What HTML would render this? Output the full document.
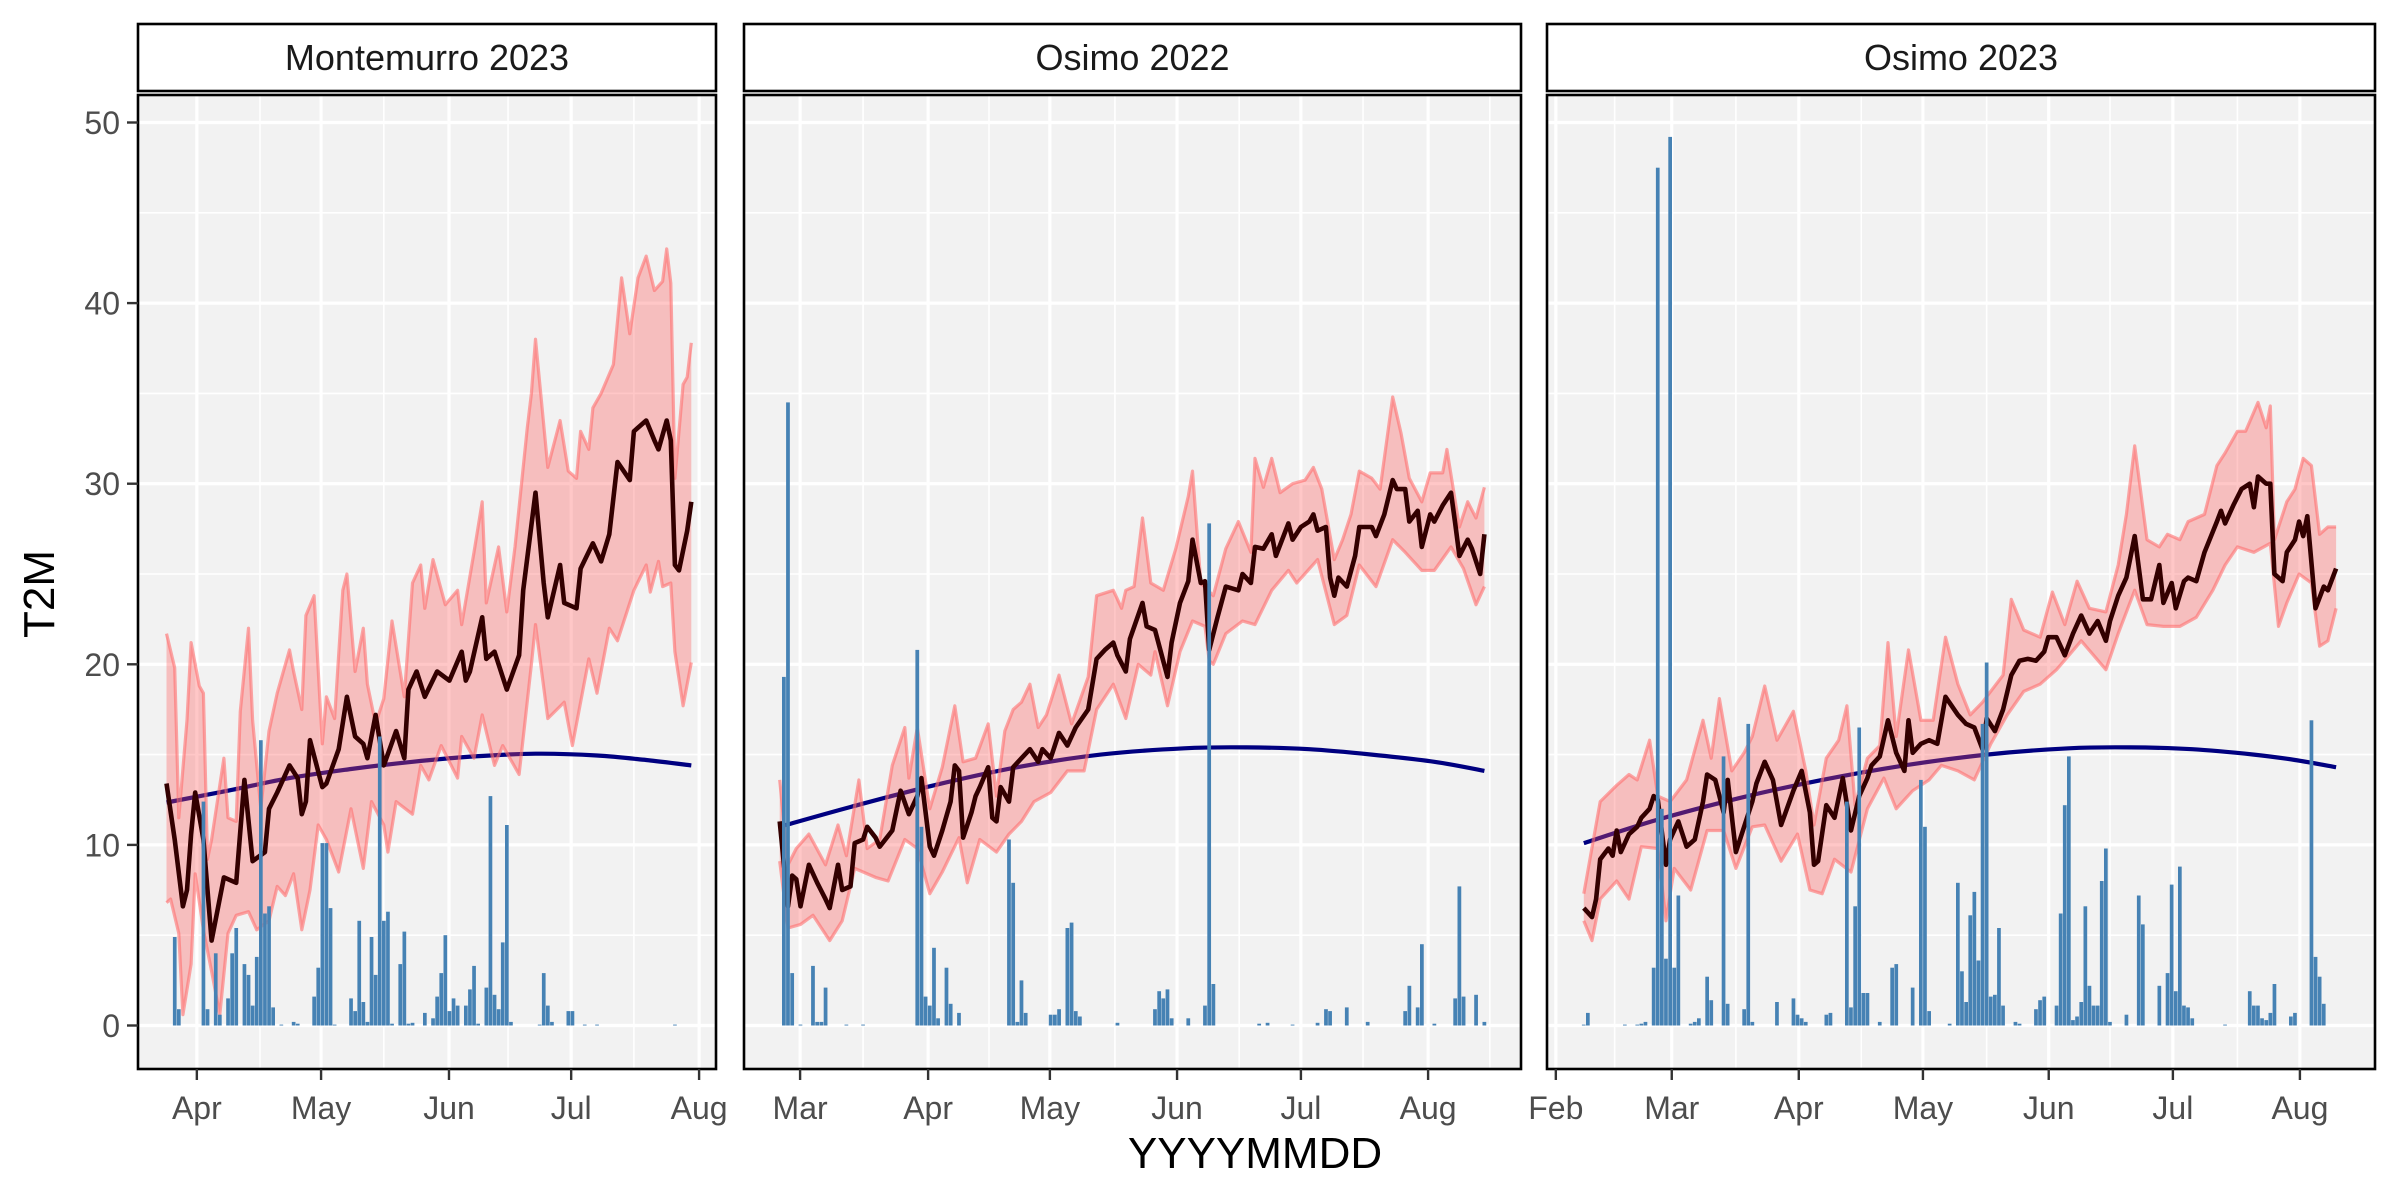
<!DOCTYPE html>
<html><head><meta charset="utf-8"><style>
html,body{margin:0;padding:0;background:#fff;}
svg{display:block;font-family:"Liberation Sans",sans-serif;}
</style></head><body>
<svg id="chart" width="2400" height="1200" viewBox="0 0 2400 1200" xmlns="http://www.w3.org/2000/svg">
<rect x="0" y="0" width="2400" height="1200" fill="#ffffff"/>
<g id="layer"></g>
<text x="1255" y="1168" text-anchor="middle" font-size="44" fill="#000">YYYYMMDD</text>
<text transform="translate(54,594) rotate(-90)" text-anchor="middle" font-size="44" fill="#000">T2M</text>
</svg>
<script>
// ---- Panel 1: Montemurro 2023 (day offsets, values) ----
const p1Mean=[[-5,13.4],[-3,10.3],[-1,6.6],[0,7.5],[1,10.6],[2,12.9],[4,10.3],[6,4.7],[9,8.2],[12,7.9],[14,13.6],[16,9.1],[19,9.6],[20,12.0],[22,12.9],[25,14.4],[27,13.7],[28,11.7],[29,12.4],[30,15.8],[33,13.2],[34,13.4],[37,15.3],[39,18.2],[41,16.0],[43,15.6],[44,14.8],[46,17.2],[48,14.4],[51,16.3],[53,14.8],[54,18.6],[56,19.6],[58,18.2],[61,19.6],[64,19.1],[67,20.7],[68,19.1],[69,19.6],[72,22.6],[73,20.3],[75,20.7],[78,18.6],[81,20.5],[82,24.1],[85,29.5],[87,24.5],[88,22.6],[91,25.5],[92,23.4],[95,23.1],[96,25.3],[99,26.7],[101,25.7],[103,27.2],[105,31.2],[108,30.2],[109,32.9],[112,33.5],[114,32.4],[115,31.9],[117,33.5],[118,32.4],[119,25.5],[120,25.2],[122,27.4],[123,29.0]];
const p1Upper=[[-5,21.7],[-3,19.8],[-2,11.5],[0,16.9],[1,21.2],[3,18.8],[4,18.4],[5,9.2],[6,10.3],[9,14.8],[10,11.5],[12,11.3],[13,17.4],[15,22.0],[16,16.9],[18,12.0],[20,16.3],[22,18.4],[25,20.8],[26,19.6],[28,17.5],[29,22.7],[31,23.8],[33,15.6],[34,18.2],[36,17.0],[38,24.1],[39,25.0],[41,19.6],[43,22.0],[44,18.9],[46,16.7],[48,18.1],[50,22.4],[53,18.2],[55,24.5],[57,25.5],[58,23.1],[60,25.8],[63,23.3],[66,24.1],[67,22.2],[70,26.2],[72,29.0],[73,23.4],[76,26.5],[78,22.9],[80,26.5],[83,33.1],[84,35.0],[85,38.0],[88,30.9],[91,33.5],[93,30.7],[95,30.3],[96,32.9],[98,31.9],[99,34.2],[101,35.0],[104,36.6],[106,41.4],[108,38.3],[110,41.4],[112,42.6],[114,40.7],[116,41.2],[117,43.0],[118,41.1],[119,30.3],[121,35.5],[122,35.9],[123,37.8]];
const p1Lower=[[-5,6.8],[-4,7.0],[-2,5.1],[-1,0.6],[1,3.4],[2,8.4],[4,5.3],[6,3.0],[8,0.6],[10,5.1],[12,6.1],[15,6.3],[17,5.3],[20,5.8],[22,7.7],[24,7.2],[26,8.4],[28,5.3],[30,7.5],[32,11.1],[34,10.3],[37,8.5],[40,12.0],[43,8.7],[45,12.4],[48,11.1],[49,9.6],[51,12.4],[55,11.7],[57,14.4],[59,13.6],[62,15.5],[66,13.7],[67,16.0],[70,14.8],[72,17.2],[75,14.4],[77,15.5],[81,13.9],[84,20.0],[85,22.2],[88,17.0],[92,17.9],[94,15.5],[98,20.3],[100,18.4],[103,22.0],[105,21.3],[109,24.1],[112,25.5],[113,24.0],[115,25.7],[116,24.3],[118,24.5],[119,20.7],[121,17.7],[123,20.1]];
const p1Smooth=[[-5,12.35],[10,13.0],[25,13.7],[40,14.2],[55,14.6],[70,14.9],[85,15.05],[100,14.95],[112,14.7],[123,14.4]];
const p1Rain=[[-3,4.9],[-2,0.9],[4,12.4],[5,0.9],[7,4.0],[8,0.6],[10,1.5],[11,4.0],[12,5.4],[14,3.4],[15,2.8],[16,1.1],[17,3.8],[18,15.8],[19,6.2],[20,6.6],[21,1.0],[23,0.05],[26,0.2],[27,0.1],[31,1.6],[32,3.2],[33,10.1],[34,10.1],[35,6.5],[36,0.05],[40,1.5],[41,0.8],[42,5.8],[43,1.3],[44,0.2],[45,4.9],[46,2.8],[47,16.0],[48,5.8],[49,6.3],[50,0.1],[52,3.4],[53,5.2],[54,0.1],[55,0.15],[58,0.7],[60,0.4],[61,1.6],[62,2.9],[63,5.0],[64,0.8],[65,1.5],[66,1.1],[68,1.1],[69,2.0],[70,3.3],[71,0.1],[73,2.1],[74,12.7],[75,1.7],[76,0.9],[77,4.6],[78,11.1],[79,0.2],[86,0.05],[87,2.9],[88,1.1],[89,0.2],[93,0.8],[94,0.8],[97,0.05],[100,0.05],[119,0.05]];
const p1TickDays=[2.4,32.7,63.9,93.7,124.9];
const p1TickLabels=["Apr","May","Jun","Jul","Aug"];
const p1MinorDays=[17.8,48,78.3,109];

// ---- Panel 2: Osimo 2022 ----
const p2Mean=[[-2,11.3],[0,6.6],[1,8.3],[2,8.1],[3,6.6],[5,8.9],[7,7.9],[9,7.0],[10,6.5],[12,8.9],[13,7.5],[15,7.7],[16,10.1],[18,10.3],[19,11.0],[21,10.4],[22,9.9],[25,10.8],[27,13.0],[29,11.7],[31,12.7],[32,13.7],[34,9.9],[35,9.4],[37,10.8],[39,12.4],[40,14.4],[41,14.1],[42,10.4],[44,11.8],[45,12.7],[46,13.2],[48,14.3],[49,11.5],[50,11.3],[51,13.2],[53,12.4],[54,14.3],[56,14.8],[58,15.3],[60,14.6],[61,15.3],[63,14.8],[65,16.2],[67,15.5],[69,16.5],[72,17.5],[74,20.3],[76,20.8],[78,21.2],[79,20.5],[81,19.6],[82,21.4],[85,23.4],[86,22.1],[88,21.9],[91,19.3],[92,21.2],[94,23.4],[96,24.6],[97,26.9],[99,24.5],[100,24.6],[101,20.8],[103,22.6],[105,24.3],[108,24.1],[109,25.0],[111,24.5],[112,26.5],[114,26.4],[116,27.2],[117,26.0],[119,27.2],[120,27.8],[121,26.9],[123,27.6],[125,27.9],[126,28.3],[127,27.4],[129,27.6],[130,24.8],[131,23.8],[132,24.8],[134,24.3],[136,26.0],[137,27.6],[140,27.6],[141,27.1],[143,28.3],[145,30.2],[146,29.7],[148,29.7],[149,27.9],[151,28.5],[152,26.5],[154,28.3],[155,27.9],[157,28.8],[159,29.5],[160,27.8],[161,26.0],[163,26.9],[164,26.4],[166,25.0],[167,27.2]];
const p2Upper=[[-2,13.6],[0,8.9],[2,9.8],[5,10.6],[9,8.9],[12,11.1],[14,9.4],[17,13.6],[19,9.8],[22,10.3],[25,14.4],[28,16.5],[29,13.7],[31,16.5],[34,12.0],[37,14.3],[40,17.7],[42,14.6],[45,14.8],[48,16.7],[50,12.7],[52,16.3],[54,17.5],[56,17.9],[58,18.9],[60,16.5],[62,17.2],[65,19.4],[68,16.7],[72,19.3],[74,23.8],[78,24.1],[80,23.1],[81,24.1],[83,24.3],[85,28.1],[87,24.5],[90,24.1],[93,26.4],[96,29.3],[97,30.7],[99,24.5],[102,23.8],[105,26.4],[108,27.9],[111,26.2],[112,31.4],[114,29.8],[116,31.4],[118,29.5],[121,30.0],[124,30.2],[126,30.9],[128,29.7],[131,25.8],[133,26.9],[135,28.3],[137,30.7],[140,30.3],[142,29.7],[145,34.8],[147,32.8],[149,30.3],[152,29.0],[154,30.6],[157,30.6],[158,31.9],[161,27.6],[163,29.0],[165,28.1],[167,29.8]];
const p2Lower=[[-2,9.1],[0,5.4],[3,5.6],[6,6.1],[10,4.7],[13,5.8],[16,8.7],[21,8.2],[24,8.0],[28,10.3],[31,9.8],[34,7.3],[37,8.5],[41,10.4],[43,7.9],[46,10.3],[50,9.6],[53,10.6],[56,11.3],[59,12.4],[63,12.9],[67,14.1],[71,14.1],[74,17.5],[78,18.9],[81,17.0],[84,20.0],[87,19.4],[88,20.7],[91,17.7],[94,20.7],[97,22.4],[100,22.1],[101,20.2],[102,20.0],[105,21.7],[109,22.4],[112,22.2],[116,24.1],[120,25.2],[122,24.5],[127,25.8],[131,22.2],[134,22.7],[137,25.5],[141,24.3],[145,26.9],[148,26.2],[152,25.2],[155,25.2],[159,26.5],[162,25.3],[165,23.3],[167,24.3]];
const p2Smooth=[[-2,11.0],[15,12.1],[35,13.3],[55,14.3],[75,15.0],[95,15.35],[110,15.4],[125,15.3],[140,15.0],[155,14.6],[167,14.1]];
const p2Rain=[[-1,19.3],[0,34.5],[1,2.9],[3,0.05],[6,3.3],[7,0.2],[8,0.2],[9,2.1],[14,0.05],[18,0.05],[31,20.8],[32,11.0],[33,1.6],[34,1.1],[35,4.3],[36,0.4],[38,3.2],[39,1.2],[41,0.7],[53,10.3],[54,7.9],[55,0.2],[56,2.5],[57,0.7],[63,0.6],[64,0.6],[65,0.9],[67,5.4],[68,5.7],[69,0.8],[70,0.5],[79,0.15],[88,0.9],[89,1.9],[90,1.5],[91,2.0],[92,0.4],[96,0.4],[100,1.1],[101,27.8],[102,2.3],[113,0.1],[115,0.15],[121,0.05],[127,0.15],[129,0.9],[130,0.8],[134,1.0],[139,0.2],[148,0.8],[149,2.2],[151,1.0],[152,4.5],[155,0.1],[160,1.5],[161,7.7],[162,1.6],[165,1.7],[167,0.2]];
const p2TickDays=[2.9,33.6,62.8,93.3,123.0,153.5];
const p2TickLabels=["Mar","Apr","May","Jun","Jul","Aug"];
const p2MinorDays=[18.0,48.2,78.4,108.2,137.9,168.3];

// ---- Panel 3: Osimo 2023 ----
const p3Mean=[[7,6.5],[9,6.0],[10,7.0],[11,9.2],[13,9.8],[14,9.4],[15,10.8],[16,9.6],[18,10.6],[20,11.0],[21,11.5],[23,12.0],[24,12.7],[25,12.5],[27,8.9],[28,10.3],[30,11.3],[32,9.9],[34,10.3],[36,12.4],[37,13.9],[39,13.6],[41,11.8],[42,13.6],[44,9.6],[46,11.0],[48,12.4],[49,13.4],[51,14.6],[53,13.6],[55,11.1],[58,13.0],[60,14.1],[62,11.8],[63,8.9],[64,9.1],[66,12.2],[68,11.5],[70,13.7],[72,10.8],[74,12.7],[76,13.7],[77,14.4],[79,14.9],[81,16.9],[83,15.1],[85,14.1],[86,16.9],[87,15.1],[89,15.6],[91,15.8],[93,15.6],[94,16.9],[95,18.2],[98,17.2],[100,16.7],[102,16.5],[104,15.3],[105,17.0],[107,16.3],[109,17.5],[111,19.4],[113,20.2],[115,20.3],[117,20.2],[119,20.7],[120,21.5],[122,21.5],[124,20.5],[126,21.7],[128,22.7],[130,21.7],[132,22.4],[134,21.3],[135,22.4],[137,23.8],[139,24.8],[141,27.1],[143,23.6],[145,23.6],[147,25.5],[148,23.4],[150,24.5],[151,23.1],[153,24.6],[154,24.8],[156,24.6],[158,26.2],[161,27.9],[162,28.5],[163,27.8],[165,28.8],[167,29.7],[169,30.0],[170,28.7],[171,30.4],[173,30.0],[174,30.0],[175,25.0],[177,24.6],[178,26.2],[180,26.9],[181,27.9],[182,27.1],[183,28.2],[185,23.1],[187,24.3],[188,24.1],[190,25.3]];
const p3Upper=[[7,7.3],[11,12.4],[15,13.3],[18,13.9],[20,13.6],[23,15.8],[25,12.7],[28,12.4],[32,13.6],[36,16.9],[38,14.8],[40,18.1],[43,14.1],[46,15.1],[48,16.0],[51,18.8],[54,15.8],[58,17.4],[61,14.1],[63,11.1],[66,14.8],[69,15.8],[71,17.7],[73,12.2],[76,14.8],[79,15.5],[81,21.2],[83,16.0],[86,20.8],[89,16.9],[92,16.9],[95,21.5],[98,18.9],[101,17.2],[104,17.9],[109,19.4],[111,23.6],[114,21.9],[118,21.5],[121,24.0],[124,22.2],[127,24.6],[130,23.1],[134,22.9],[137,25.5],[139,28.3],[141,32.1],[144,26.9],[147,26.5],[149,27.2],[152,26.9],[154,27.9],[158,28.3],[161,31.0],[163,31.7],[166,32.9],[168,32.9],[171,34.5],[173,33.1],[174,34.3],[175,26.9],[178,29.0],[180,29.7],[182,31.4],[184,31.0],[186,27.2],[188,27.6],[190,27.6]];
const p3Lower=[[7,5.8],[9,4.7],[11,7.0],[15,8.0],[18,7.0],[21,9.9],[25,9.8],[27,5.8],[29,8.7],[33,7.5],[37,10.8],[41,10.8],[44,8.7],[48,11.0],[51,11.1],[55,9.1],[59,10.6],[62,7.5],[65,7.3],[68,9.2],[72,8.5],[76,12.0],[80,13.7],[83,12.0],[87,13.0],[91,13.6],[94,14.4],[98,14.1],[102,13.6],[106,15.6],[110,17.2],[114,18.5],[118,18.9],[122,19.7],[125,20.5],[128,21.3],[134,19.7],[137,21.7],[141,24.1],[144,22.2],[148,22.1],[152,22.1],[156,22.6],[160,24.1],[163,25.5],[166,26.5],[170,26.2],[174,26.7],[176,22.1],[178,23.4],[181,25.0],[184,24.5],[186,21.0],[188,21.3],[190,23.1]];
const p3Smooth=[[7,10.1],[25,11.4],[45,12.6],[65,13.6],[85,14.4],[105,15.0],[125,15.35],[140,15.4],[155,15.3],[170,15.0],[180,14.7],[190,14.3]];
const p3Rain=[[7,0.05],[8,0.7],[17,0.05],[20,0.05],[21,0.1],[22,0.2],[24,3.2],[25,47.5],[26,12.0],[27,3.7],[28,49.2],[29,3.2],[30,7.2],[33,0.1],[34,0.2],[35,0.4],[37,2.7],[38,1.4],[41,14.9],[42,1.2],[46,0.9],[47,16.7],[48,0.2],[54,1.3],[58,1.5],[59,0.6],[60,0.4],[61,0.2],[66,0.6],[67,0.7],[71,12.4],[72,1.0],[73,6.6],[74,16.5],[75,1.8],[76,1.8],[79,0.2],[82,3.2],[83,3.4],[87,2.1],[89,13.6],[90,11.0],[91,0.8],[96,0.1],[98,7.9],[99,3.0],[100,1.3],[101,6.1],[102,7.4],[103,3.6],[104,16.7],[105,20.1],[106,1.6],[107,1.7],[108,5.4],[109,1.1],[112,0.2],[113,0.1],[117,0.9],[118,1.4],[119,1.6],[122,1.1],[123,6.2],[124,12.2],[125,14.9],[126,0.3],[127,0.5],[128,1.3],[129,6.6],[130,2.2],[131,1.1],[132,1.1],[133,8.0],[134,9.8],[135,0.2],[139,0.6],[142,7.2],[143,5.6],[147,2.2],[149,2.9],[150,7.8],[151,1.9],[152,8.8],[153,1.1],[154,1.0],[155,0.4],[163,0.05],[169,1.9],[170,1.1],[171,1.1],[172,0.4],[173,0.3],[174,0.7],[175,2.3],[179,0.5],[180,0.7],[184,16.9],[185,3.8],[186,2.7],[187,1.2]];
const p3TickDays=[0.2,28.4,59.3,89.5,120.1,150.3,181.2];
const p3TickLabels=["Feb","Mar","Apr","May","Jun","Jul","Aug"];
const p3MinorDays=[14.5,44,74.5,105,135,166];

const yTicks=[0,10,20,30,40,50];
const yTickLabels=["0","10","20","30","40","50"];
const yMinor=[5,15,25,35,45];

const NS="http://www.w3.org/2000/svg";
const layer=document.getElementById('layer');
const PT=95, PB=1069, ST=24, SB=91;
function yScale(v){return 1025.5-18.06*v;}
function mk(tag,attrs,parent){const e=document.createElementNS(NS,tag);for(const k in attrs)e.setAttribute(k,attrs[k]);(parent||layer).appendChild(e);return e;}

const panelDefs=[
 {title:"Montemurro 2023",left:138,right:716,x0:187,k:4.1,mean:p1Mean,up:p1Upper,lo:p1Lower,sm:p1Smooth,rain:p1Rain,ticks:p1TickDays,labels:p1TickLabels,minor:p1MinorDays,yaxis:true},
 {title:"Osimo 2022",left:744,right:1521,x0:788,k:4.17,mean:p2Mean,up:p2Upper,lo:p2Lower,sm:p2Smooth,rain:p2Rain,ticks:p2TickDays,labels:p2TickLabels,minor:p2MinorDays,yaxis:false},
 {title:"Osimo 2023",left:1547,right:2375,x0:1555,k:4.111,mean:p3Mean,up:p3Upper,lo:p3Lower,sm:p3Smooth,rain:p3Rain,ticks:p3TickDays,labels:p3TickLabels,minor:p3MinorDays,yaxis:false}
];

function smoothPath(pts,xs){
  const P=pts.map(p=>[xs(p[0]),yScale(p[1])]);
  let d="M"+P[0][0].toFixed(1)+","+P[0][1].toFixed(1);
  for(let i=0;i<P.length-1;i++){
    const p0=P[Math.max(0,i-1)],p1=P[i],p2=P[i+1],p3=P[Math.min(P.length-1,i+2)];
    const c1x=p1[0]+(p2[0]-p0[0])/6,c1y=p1[1]+(p2[1]-p0[1])/6;
    const c2x=p2[0]-(p3[0]-p1[0])/6,c2y=p2[1]-(p3[1]-p1[1])/6;
    d+=" C"+c1x.toFixed(1)+","+c1y.toFixed(1)+" "+c2x.toFixed(1)+","+c2y.toFixed(1)+" "+p2[0].toFixed(1)+","+p2[1].toFixed(1);
  }
  return d;
}

panelDefs.forEach((pd,pi)=>{
  const xs=d=>pd.x0+pd.k*d;
  const g=mk('g',{});
  
  
  const w=pd.right-pd.left;
  const bg=mk('rect',{x:pd.left,y:PT,width:w,height:PB-PT,fill:'#f2f2f2'},g);
  
  
  yMinor.forEach(v=>{const l=mk('line',{x1:pd.left,x2:pd.right,y1:yScale(v),y2:yScale(v),stroke:'#fff','stroke-width':1.6},g);
    });
  pd.minor.forEach(d=>{const x=xs(d);if(x<=pd.left+2||x>=pd.right-2)return;const l=mk('line',{x1:x,x2:x,y1:PT,y2:PB,stroke:'#fff','stroke-width':1.6},g);
    });
  yTicks.forEach(v=>{const l=mk('line',{x1:pd.left,x2:pd.right,y1:yScale(v),y2:yScale(v),stroke:'#fff','stroke-width':3.2},g);
    });
  pd.ticks.forEach(d=>{const x=xs(d);const l=mk('line',{x1:x,x2:x,y1:PT,y2:PB,stroke:'#fff','stroke-width':3.2},g);
    });
  const sm=mk('path',{d:smoothPath(pd.sm,xs),fill:'none',stroke:'#000080','stroke-width':4.2},g);
  
  
  let rp=pd.up.map((p,i)=>(i?'L':'M')+xs(p[0]).toFixed(1)+','+yScale(p[1]).toFixed(1)).join(' ');
  rp+=' '+pd.lo.slice().reverse().map(p=>'L'+xs(p[0]).toFixed(1)+','+yScale(p[1]).toFixed(1)).join(' ')+' Z';
  const rib=mk('path',{d:rp,fill:'rgba(255,80,80,0.32)',stroke:'none'},g);
  
  
  [pd.up,pd.lo].forEach((arr,ai)=>{
    const e=mk('polyline',{points:arr.map(p=>xs(p[0]).toFixed(1)+','+yScale(p[1]).toFixed(1)).join(' '),fill:'none',stroke:'rgba(255,110,110,0.6)','stroke-width':3.2,'stroke-linejoin':'round'},g);
    
    
  });
  const ml=mk('polyline',{points:pd.mean.map(p=>xs(p[0]).toFixed(1)+','+yScale(p[1]).toFixed(1)).join(' '),fill:'none',stroke:'#330000','stroke-width':4.6,'stroke-linejoin':'round'},g);
  
  
  const bw=pd.k*0.9;
  pd.rain.forEach(p=>{
    const y0=yScale(0),y1=yScale(p[1]);
    const b=mk('rect',{x:(xs(p[0])-bw/2).toFixed(1),y:y1.toFixed(1),width:bw.toFixed(2),height:Math.max(0.6,y0-y1).toFixed(1),fill:'#4682b4'},g);
    
    
  });
  const br=mk('rect',{x:pd.left,y:PT,width:w,height:PB-PT,fill:'none',stroke:'#000','stroke-width':2.6},g);
  
  
  const st=mk('rect',{x:pd.left,y:ST,width:w,height:SB-ST,fill:'#fff',stroke:'#000','stroke-width':2.6},g);
  
  
  const stt=mk('text',{x:pd.left+w/2,y:70,'text-anchor':'middle','font-size':36,fill:'#1a1a1a'},g);
  stt.textContent=pd.title;
  
  
  pd.ticks.forEach((d,i)=>{const x=xs(d);
    const t=mk('line',{x1:x,x2:x,y1:PB,y2:PB+11,stroke:'#333','stroke-width':2.4},g);
    
    const tl=mk('text',{x:x,y:1119,'text-anchor':'middle','font-size':32,fill:'#4d4d4d'},g);
    tl.textContent=pd.labels[i];
    
  });
  if(pd.yaxis){
    yTicks.forEach((v,i)=>{const y=yScale(v);
      const t=mk('line',{x1:pd.left-11,x2:pd.left,y1:y,y2:y,stroke:'#333','stroke-width':2.4},g);
      
      const tl=mk('text',{x:pd.left-18,y:y+11.5,'text-anchor':'end','font-size':32,fill:'#4d4d4d'},g);
      tl.textContent=yTickLabels[i];
      
    });
  }
});
</script>
</body></html>
